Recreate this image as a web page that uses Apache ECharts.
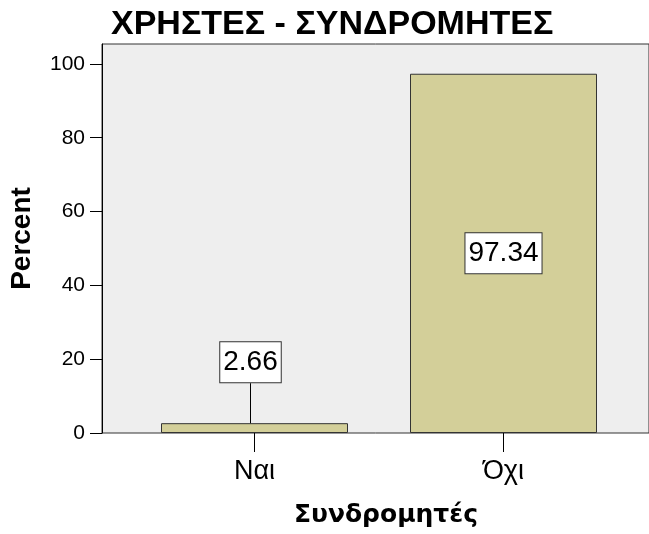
<!DOCTYPE html>
<html lang="el">
<head>
<meta charset="UTF-8">
<title>ΧΡΗΣΤΕΣ - ΣΥΝΔΡΟΜΗΤΕΣ</title>
<script src="https://cdn.jsdelivr.net/npm/echarts@6/dist/echarts.min.js"></script>
<style>
    html, body {margin: 0; padding: 0; background: #fff;}
    #chart {width: 649px; height: 534px;}
</style>
</head>
<body>
<div id="chart"></div>
<script>
    var categories = ["Ναι", "Όχι"];
    var percents = [2.66, 97.34];
    var yTicks = [0, 20, 40, 60, 80, 100];

    var font = "'Liberation Sans', Arial, sans-serif";
    var chart = echarts.init(document.getElementById("chart"));

    chart.setOption({
        animation: false,
        textStyle: {fontFamily: font},
        title: {
            text: "ΧΡΗΣΤΕΣ - ΣΥΝΔΡΟΜΗΤΕΣ",
            left: 106, top: 3,
            textStyle: {fontFamily: font, fontSize: 34, fontWeight: "bold", color: "#000"}
        },
        grid: [
            // frame + background (right edge runs off the canvas)
            {left: 102, top: 44, width: 570, bottom: 101, show: true,
                backgroundColor: "#eeeeee", borderColor: "#333", borderWidth: 1},
            // bars
            {left: 130, width: 498, top: 44, bottom: 101}
        ],
        xAxis: [
            {gridIndex: 0, type: "category", data: categories, show: false},
            {
                gridIndex: 1, type: "category", data: categories,
                axisLine: {show: false},
                axisTick: {show: true, alignWithLabel: true, length: 19, lineStyle: {color: "#000"}},
                axisLabel: {fontSize: 27, color: "#000", margin: 25},
                name: "Συνδρομητές", nameLocation: "middle", nameGap: 70,
                nameTextStyle: {fontFamily: "'DejaVu Sans', sans-serif", fontSize: 25,
                    fontWeight: "bold", color: "#000", padding: [0, 0, 0, 14]}
            }
        ],
        yAxis: [
            {
                gridIndex: 0, type: "value", min: 0, max: 105.4,
                splitLine: {show: false},
                axisLine: {show: true, lineStyle: {color: "#000"}},
                axisTick: {show: true, length: 12, customValues: yTicks, lineStyle: {color: "#000"}},
                axisLabel: {fontSize: 21, color: "#000", margin: 17, customValues: yTicks},
                name: "Percent", nameLocation: "middle", nameGap: 66,
                nameTextStyle: {fontSize: 28, fontWeight: "bold", color: "#000"}
            },
            {gridIndex: 1, type: "value", min: 0, max: 105.4, show: false, splitLine: {show: false}}
        ],
        series: [{
            type: "bar",
            xAxisIndex: 1, yAxisIndex: 1,
            barWidth: 187,
            itemStyle: {color: "#d3cf99", borderColor: "#333", borderWidth: 1},
            label: {
                show: true, position: "inside", offset: [0, 4],
                fontSize: 28, color: "#000", lineHeight: 32,
                backgroundColor: "#fff", borderColor: "#333", borderWidth: 1,
                padding: [4, 3, 4, 3],
                formatter: function (p) { return p.value.toFixed(2); }
            },
            labelLine: {show: true, lineStyle: {color: "#000", width: 1}},
            labelLayout: function (p) {
                if (p.dataIndex === 0) return {dx: -4, dy: -36};
                return {};
            },
            data: [
                {value: percents[0], label: {position: "top", distance: 5, offset: [0, 0]}},
                {value: percents[1]}
            ]
        }]
    });
</script>
</body>
</html>
